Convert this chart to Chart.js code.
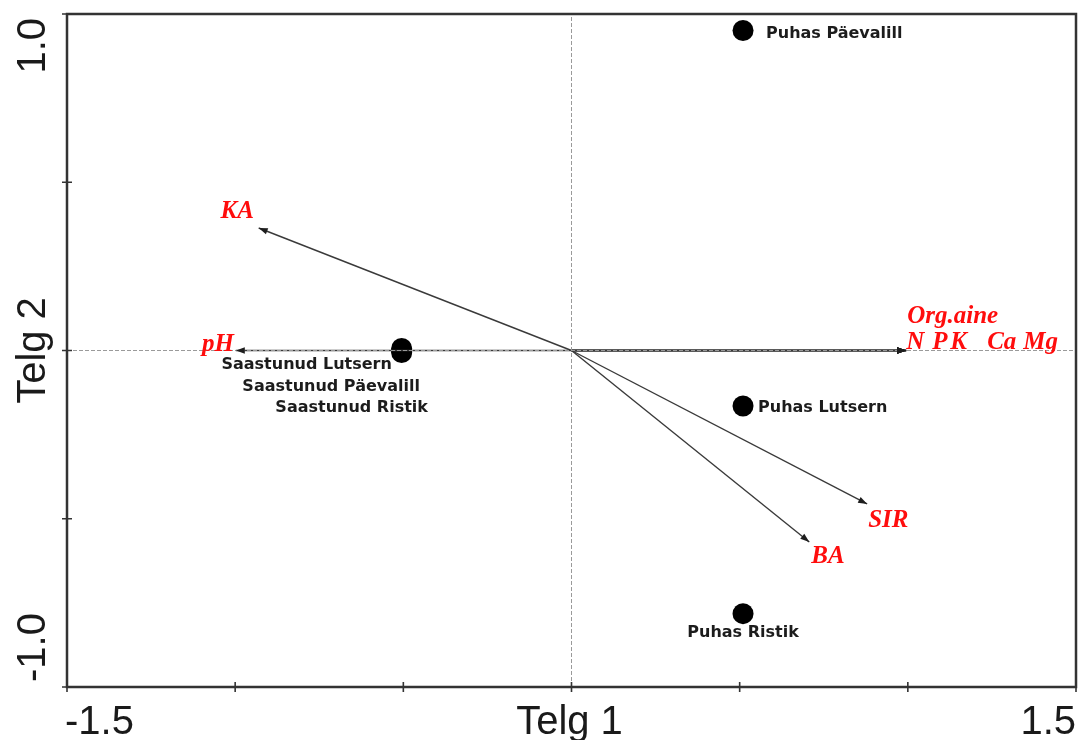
<!DOCTYPE html>
<html>
<head>
<meta charset="utf-8">
<script src="https://cdn.jsdelivr.net/npm/chart.js@4.4.1/dist/chart.umd.min.js"></script>
<style>
  html, body { margin: 0; padding: 0; background: #ffffff; }
  canvas { display: block; }
</style>
</head>
<body>
<canvas id="ord" width="1081" height="740"></canvas>
<script>
// Site scores on the first two ordination axes
const siteNames = ['Puhas Päevalill', 'Puhas Lutsern', 'Puhas Ristik',
                   'Saastunud Lutsern', 'Saastunud Päevalill', 'Saastunud Ristik'];
const siteX = [0.51, 0.51, 0.51, -0.505, -0.505, -0.505];
const siteY = [0.951, -0.165, -0.782, 0.006, 0.0, -0.006];

// Environmental variable vectors (arrow tips, starting at the origin)
const varNames = ['KA', 'pH', 'Org.aine', 'N', 'P', 'K', 'Ca', 'Mg', 'SIR', 'BA'];
const varX = [-0.930, -0.998, 0.995, 0.995, 0.995, 0.995, 0.995, 0.995, 0.879, 0.707];
const varY = [0.364, 0.0, 0.0, 0.0, 0.0, 0.0, 0.0, 0.0, -0.456, -0.569];

// Axis ticks and the few labelled positions
const xTicks = [-1.5, -1.0, -0.5, 0, 0.5, 1.0, 1.5];
const yTicks = [-1.0, -0.5, 0, 0.5, 1.0];
const xLabelAt = [-1.5, 0, 1.5];
const xLabelText = ['-1.5', 'Telg 1', '1.5'];
const yLabelAt = [1.0, 0, -1.0];
const yLabelText = ['1.0', 'Telg 2', '-1.0'];

// Label placement (pixel offsets from the mark)
const siteLabelLayout = {
  'Puhas Päevalill':     { dx: 23,    dy: 3.5,  align: 'left' },
  'Puhas Lutsern':       { dx: 15,    dy: 2,    align: 'left' },
  'Puhas Ristik':        { dx: 0,     dy: 19.5, align: 'center' },
  'Saastunud Lutsern':   { dx: -95,   dy: 16.5, align: 'center' },
  'Saastunud Päevalill': { dx: -70.5, dy: 36.5, align: 'center' },
  'Saastunud Ristik':    { dx: -50,   dy: 55.5, align: 'center' }
};
const varLabelLayout = {
  'KA':       { dx: -21.5, dy: -10, align: 'center' },
  'pH':       { dx: -2,    dy: 0,   align: 'right' },
  'Org.aine': { dx: 1,     dy: -28, align: 'left' },
  'N':        { dx: 0,     dy: -2,  align: 'left' },
  'P':        { dx: 26,    dy: -2,  align: 'left' },
  'K':        { dx: 44,    dy: -2,  align: 'left' },
  'Ca':       { dx: 81,    dy: -2,  align: 'left' },
  'Mg':       { dx: 117,   dy: -2,  align: 'left' },
  'SIR':      { dx: 1,     dy: 23,  align: 'left' },
  'BA':       { dx: 2,     dy: 21,  align: 'left' }
};

const AXIS_COLOR = '#333333';
const ARROW_COLOR = '#3a3a3a';
const VAR_COLOR = '#ff0d0d';
const SITE_TEXT = '#1c1c1c';

const datasets = [];

// dashed reference lines through the origin
datasets.push({
  kind: 'ref',
  data: [{ x: xTicks[0], y: 0 }, { x: xTicks[xTicks.length - 1], y: 0 }],
  showLine: true, borderColor: '#9a9a9a', borderWidth: 1, borderDash: [4, 2],
  pointRadius: 0
});
datasets.push({
  kind: 'ref',
  data: [{ x: 0, y: yTicks[0] }, { x: 0, y: yTicks[yTicks.length - 1] }],
  showLine: true, borderColor: '#9a9a9a', borderWidth: 1, borderDash: [4, 2],
  pointRadius: 0
});

// one line per variable vector
varNames.forEach((name, i) => {
  datasets.push({
    kind: 'arrow',
    name: name,
    data: [{ x: 0, y: 0 }, { x: varX[i], y: varY[i] }],
    showLine: true, borderColor: ARROW_COLOR, borderWidth: 1.4,
    pointRadius: 0
  });
});

// site points
datasets.push({
  kind: 'site',
  data: siteNames.map((n, i) => ({ x: siteX[i], y: siteY[i], name: n })),
  showLine: false,
  pointRadius: 10.5,
  pointBackgroundColor: '#000000',
  pointBorderColor: '#000000',
  pointBorderWidth: 0
});

// frame, crossing tick marks and axis texts
const framePlugin = {
  id: 'frame',
  afterDatasetsDraw(chart) {
    const ctx = chart.ctx;
    const a = chart.chartArea;
    const xs = chart.scales.x, ys = chart.scales.y;
    ctx.save();
    ctx.strokeStyle = AXIS_COLOR;
    ctx.lineWidth = 2.5;
    ctx.strokeRect(a.left, a.top, a.right - a.left, a.bottom - a.top);

    ctx.lineWidth = 1.6;
    ctx.beginPath();
    xTicks.forEach(v => {
      const px = xs.getPixelForValue(v);
      ctx.moveTo(px, a.bottom - 5);
      ctx.lineTo(px, a.bottom + 5);
    });
    yTicks.forEach(v => {
      const py = ys.getPixelForValue(v);
      ctx.moveTo(a.left - 5, py);
      ctx.lineTo(a.left + 5, py);
    });
    ctx.stroke();

    ctx.fillStyle = '#1a1a1a';
    ctx.font = '40px "Liberation Sans", Arial, sans-serif';
    ctx.textBaseline = 'alphabetic';
    xLabelAt.forEach((v, i) => {
      const px = xs.getPixelForValue(v);
      let align = 'center', x = px - 2;
      if (i === 0) { align = 'left'; x = px - 2; }
      if (i === xLabelAt.length - 1) { align = 'right'; x = px; }
      ctx.textAlign = align;
      ctx.fillText(xLabelText[i], x, 734);
    });
    yLabelAt.forEach((v, i) => {
      const py = ys.getPixelForValue(v);
      let align = 'center', y = py;
      if (i === 0) { align = 'right'; y = py + 4; }
      if (i === yLabelAt.length - 1) { align = 'left'; y = py - 5; }
      ctx.save();
      ctx.translate(45, y);
      ctx.rotate(-Math.PI / 2);
      ctx.textAlign = align;
      ctx.fillText(yLabelText[i], 0, 0);
      ctx.restore();
    });
    ctx.restore();
  }
};

// arrowheads and labels for the variable vectors, labels for sites
const biplotPlugin = {
  id: 'biplot',
  afterDatasetsDraw(chart) {
    const ctx = chart.ctx;
    ctx.save();
    chart.data.datasets.forEach((ds, di) => {
      const meta = chart.getDatasetMeta(di);
      if (ds.kind === 'arrow') {
        const p0 = meta.data[0], p1 = meta.data[1];
        const ang = Math.atan2(p1.y - p0.y, p1.x - p0.x);
        const len = 9, half = 3.2;
        ctx.fillStyle = '#1e1e1e';
        ctx.beginPath();
        ctx.moveTo(p1.x, p1.y);
        ctx.lineTo(p1.x - len * Math.cos(ang) + half * Math.sin(ang),
                   p1.y - len * Math.sin(ang) - half * Math.cos(ang));
        ctx.lineTo(p1.x - len * Math.cos(ang) - half * Math.sin(ang),
                   p1.y - len * Math.sin(ang) + half * Math.cos(ang));
        ctx.closePath();
        ctx.fill();

        const lay = varLabelLayout[ds.name];
        ctx.fillStyle = VAR_COLOR;
        ctx.font = 'italic bold 25px "Liberation Serif", "Times New Roman", serif';
        ctx.textAlign = lay.align;
        ctx.textBaseline = 'alphabetic';
        ctx.fillText(ds.name, p1.x + lay.dx, p1.y + lay.dy);
      } else if (ds.kind === 'site') {
        ctx.fillStyle = SITE_TEXT;
        ctx.font = 'bold 16px "DejaVu Sans", Verdana, sans-serif';
        ctx.textBaseline = 'middle';
        meta.data.forEach((pt, k) => {
          const name = ds.data[k].name;
          const lay = siteLabelLayout[name];
          ctx.textAlign = lay.align;
          ctx.fillText(name, pt.x + lay.dx, pt.y + lay.dy);
        });
      }
    });
    ctx.restore();
  }
};

new Chart(document.getElementById('ord'), {
  type: 'scatter',
  data: { datasets: datasets },
  options: {
    responsive: false,
    animation: false,
    events: [],
    layout: { autoPadding: false, padding: { left: 67, top: 14, right: 5, bottom: 53 } },
    plugins: {
      legend: { display: false },
      tooltip: { enabled: false },
      title: { display: false }
    },
    scales: {
      x: { type: 'linear', display: false, min: -1.5, max: 1.5 },
      y: { type: 'linear', display: false, min: -1.0, max: 1.0 }
    }
  },
  plugins: [framePlugin, biplotPlugin]
});
</script>
</body>
</html>
